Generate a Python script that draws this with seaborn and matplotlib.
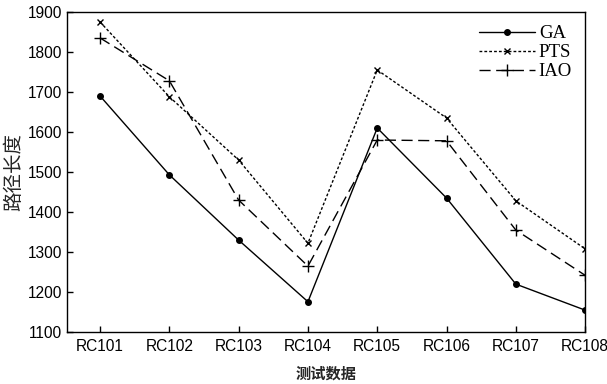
import matplotlib
matplotlib.use("Agg")
import matplotlib.pyplot as plt
import seaborn as sns
import pandas as pd

categories = ["RC101", "RC102", "RC103", "RC104", "RC105", "RC106", "RC107", "RC108"]
ga = [1690, 1493, 1330, 1176, 1610, 1435, 1220, 1155]
pts = [1875, 1688, 1530, 1322, 1755, 1635, 1428, 1308]
iao = [1835, 1728, 1430, 1265, 1580, 1578, 1355, 1242]
series_names = ["GA", "PTS", "IAO"]

sns.set_theme(style="white")
plt.rcParams["font.family"] = ["Liberation Sans", "DejaVu Sans"]

rows = []
for name, vals in zip(series_names, [ga, pts, iao]):
    for i, v in enumerate(vals):
        rows.append({"x": i, "cat": categories[i], "value": v, "series": name})
df = pd.DataFrame(rows)

fig = plt.figure(figsize=(6.07, 3.84), dpi=100)
ax = fig.add_axes([0.110, 0.135, 0.854, 0.834])

styles = {
    "GA": dict(linestyle="-", marker="o", markersize=4, linewidth=1.0),
    "PTS": dict(linestyle=(0, (2, 1.5)), marker="x", markersize=5, linewidth=1.0),
    "IAO": dict(linestyle=(0, (8, 4)), marker="+", markersize=9, linewidth=1.0),
}
for name in series_names:
    sub = df[df.series == name]
    sns.lineplot(data=sub, x="x", y="value", ax=ax, color="black", label=name,
                 markeredgewidth=1.0, markeredgecolor="black",
                 markerfacecolor="black", **styles[name])

ax.set_xlim(-0.48, 7)
ax.set_ylim(1100, 1900)
ax.set_xticks(range(len(categories)))
ax.set_xticklabels(categories)
ax.set_yticks(range(1100, 2000, 100))
ax.tick_params(axis="both", direction="in", length=4, width=1, colors="black",
               labelsize=11.2, bottom=True, left=True, top=False, right=False)
ax.tick_params(axis="x", pad=5)
for s in ax.spines.values():
    s.set_color("black")
    s.set_linewidth(1.0)

ax.set_xlabel("测试数据", fontsize=11, family=["Noto Sans CJK SC"], fontweight="bold", labelpad=8)
ax.set_ylabel("路径长度", fontsize=14, family=["Noto Sans CJK SC"], fontweight="medium", labelpad=2)

leg = ax.legend(loc="upper right", frameon=False, handlelength=3.0, handletextpad=0.2,
                labelspacing=0.1, borderaxespad=0.3,
                prop={"family": "Liberation Serif", "size": 13.5})
for t in leg.get_texts():
    t.set_color("black")

fig.savefig("out.png", dpi=100)
